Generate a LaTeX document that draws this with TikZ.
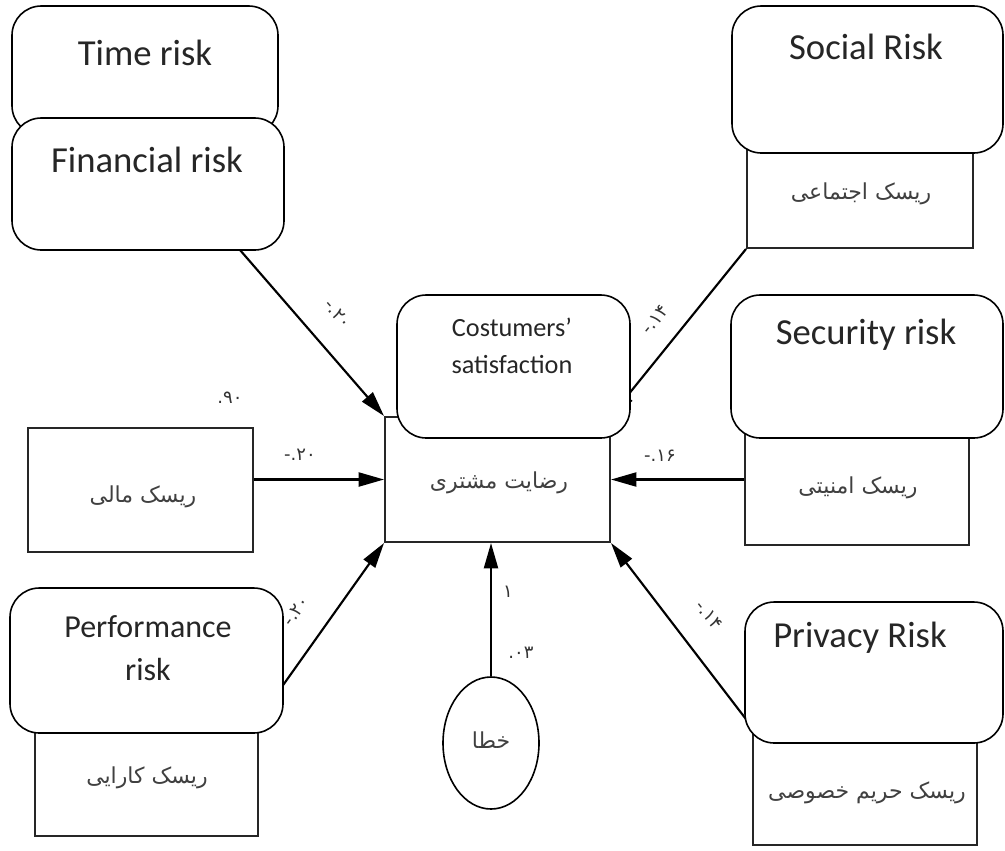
\documentclass[tikz,border=0pt]{standalone}
\usepackage{fontspec}
\setmainfont{Carlito}
\newfontfamily\arabicfont[Script=Arabic]{DejaVu Sans}
\newfontfamily\digitfont{DejaVu Sans}
\TeXXeTstate=1
\usetikzlibrary{arrows.meta,fit,shapes.geometric}

\tikzset{
  sqbox/.style={draw=black!85, line width=1.5pt, fill=white, inner sep=0pt},
  rbox/.style={draw=black, line width=1.2pt, fill=white, rounded corners=22pt, inner sep=0pt},
  errnode/.style={draw=black, ellipse, line width=1.2pt, fill=white, inner sep=0pt,
    minimum width=72pt, minimum height=99pt},
  link/.style={line width=1.6pt, -{Triangle[length=19pt,width=10.5pt]}},
  entxt/.style={text=black!85, font=\fontsize{27.5}{33}\selectfont, align=center, inner sep=0pt},
  perftxt/.style={text=black!85, font=\fontsize{24}{32}\selectfont, align=center, inner sep=0pt},
  midtxt/.style={text=black!85, font=\fontsize{19.7}{27.7}\selectfont, align=center, inner sep=0pt},
  fatxt/.style={text=black!75, font=\arabicfont\fontsize{16.5}{20}\selectfont, inner sep=0pt},
  coef/.style={text=black!80, font=\digitfont\fontsize{13.5}{16}\selectfont, inner sep=0pt},
}

\begin{document}
\begin{tikzpicture}[x=0.75pt,y=-0.75pt]
\useasboundingbox (0,0) rectangle (1005,850);

% measured variables (plain boxes)
\node[sqbox, fit={(747,140)(973,248)}] (socrect) {};
\node[sqbox, fit={(385,417)(610,542)}] (sat) {};
\node[sqbox, fit={(28,428)(253,552)}] (finrect) {};
\node[sqbox, fit={(745,431)(969,545)}] (secrect) {};
\node[sqbox, fit={(35,720)(258,836)}] (perfrect) {};
\node[sqbox, fit={(753,728)(977,845)}] (privrect) {};
\node[errnode] (err) at (491,743) {};
\coordinate (fsrc) at (240,250);

% paths into customer satisfaction
\draw[link] (fsrc) -- (sat.north west);
\draw[link] (finrect.east |- sat.west) -- (sat.west);
\draw[link] (secrect.west |- sat.east) -- (sat.east);
\draw[link] (perfrect.north east) -- (sat.south west);
\draw[link] (socrect.south west) -- (sat.north east);
\draw[link] (privrect.north west) -- (sat.south east);
\draw[link] (err.north) -- (err.north |- sat.south);

% English caption boxes
\node[rbox, fit={(12,6)(278,135)}] (timebox) {};
\node[rbox, fit={(12,118)(284,250)}] (finbox) {};
\node[rbox, fit={(732,6)(1003,153)}] (socbox) {};
\node[rbox, fit={(397,295)(630,438)}] (satbox) {};
\node[rbox, fit={(731,295)(1003,438)}] (secbox) {};
\node[rbox, fit={(745,602)(1003,743)}] (privbox) {};
\node[rbox, fit={(10,588)(283,733)}] (perfbox) {};

\node[entxt] (ttime) at (145,53) {Time risk};
\node[entxt] (tfin) at (147,160) {Financial risk};
\node[entxt] (tsoc) at (866,47) {Social Risk};
\node[midtxt] (tsat) at (512,346) {Costumers’\\satisfaction};
\node[entxt] (tsec) at (866,335) {Security risk};
\node[entxt] (tpriv) at (860,638) {Privacy Risk};
\node[perftxt] (tperf) at (148,648) {Performance\\risk};

% Persian labels
\node[fatxt] (fsoc) at (861,194) {\beginR ریسک اجتماعی\endR};
\node[fatxt] (fsat) at (499,483) {\beginR رضایت مشتری\endR};
\node[fatxt] (fmali) at (143,497) {\beginR ریسک مالی\endR};
\node[fatxt] (fsec) at (858,488) {\beginR ریسک امنیتی\endR};
\node[fatxt] (fperf) at (147,778) {\beginR ریسک کارایی\endR};
\node[fatxt] (fpriv) at (867,793) {\beginR ریسک حریم خصوصی\endR};
\node[fatxt] (ferr) at (491,740) {\beginR خطا\endR};

% path coefficients
\node[coef] (c90) at (230,398) {.۹۰};
\node[coef] (cfinh) at (300,455) {-.۲۰};
\node[coef] (csec) at (660,456) {-.۱۶};
\node[coef, rotate=-49] (cfin) at (338,314) {-.۲۰};
\node[coef, rotate=51] (csoc) at (655,320) {-.۱۴};
\node[coef, rotate=-52] (cpriv) at (709,615) {-.۱۴};
\node[coef, rotate=54] (cperf) at (296,611) {-.۲۰};
\node[coef] (cone) at (508,592) {۱};
\node[coef] (cerr) at (521,653) {.۰۳};
\end{tikzpicture}
\end{document}
